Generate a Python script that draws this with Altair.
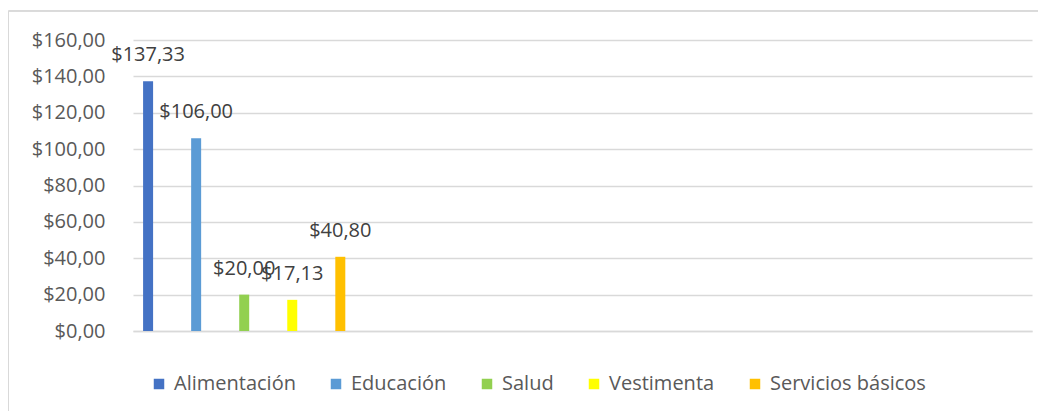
import altair as alt
import pandas as pd

categories = ["Alimentación", "Educación", "Salud", "Vestimenta", "Servicios básicos"]
values = [137.33, 106.00, 20.00, 17.13, 40.80]
colors = ["#4472C4", "#5B9BD5", "#92D050", "#FFFF00", "#FFC000"]
y_ticks = [0, 20, 40, 60, 80, 100, 120, 140, 160]

df = pd.DataFrame({"cat": categories, "val": values, "idx": list(range(len(categories)))})

FONT = "Open Sans"
FS = 20

x_scale = alt.Scale(domain=[-0.21, 18.29], nice=False, zero=False)
y_scale = alt.Scale(domain=[0, 160], nice=False)

x_axis = alt.Axis(labels=False, ticks=False, grid=False, title=None,
                  domain=True, domainColor="#d9d9d9", domainWidth=1.5)
y_axis = alt.Axis(values=y_ticks, tickCount=len(y_ticks), title=None, ticks=False,
                  domain=False, gridColor="#d9d9d9", gridWidth=1.5,
                  labelOverlap=False,
                  labelExpr='"$" + replace(format(datum.value, ".2f"), ".", ",")',
                  labelFont=FONT, labelFontSize=FS, labelColor="#595959",
                  labelPadding=28)

bars = alt.Chart(df).mark_bar(width=10).encode(
    x=alt.X("idx:Q", scale=x_scale, axis=x_axis),
    y=alt.Y("val:Q", scale=y_scale, axis=y_axis),
    color=alt.Color("cat:N", scale=alt.Scale(domain=categories, range=colors),
                    legend=alt.Legend(title=None, orient="none", legendX=16, legendY=334,
                                      direction="horizontal", columns=5,
                                      symbolType="square", symbolSize=110,
                                      symbolStrokeWidth=0, labelOffset=5,
                                      columnPadding=30,
                                      labelFont=FONT, labelFontSize=FS,
                                      labelColor="#595959")),
)

labels = alt.Chart(df).transform_calculate(
    lbl='"$" + replace(format(datum.val, ".2f"), ".", ",")'
).mark_text(dy=-26, baseline="middle", align="center", font=FONT, fontSize=FS,
            color="#404040").encode(
    x=alt.X("idx:Q", scale=x_scale, axis=x_axis),
    y=alt.Y("val:Q", scale=y_scale, axis=y_axis),
    text="lbl:N",
)

# chart-area frame (left and top edges, as in the reference)
frame_left = alt.Chart(df).mark_rule(color="#d9d9d9", strokeWidth=1).encode(
    x=alt.value(-124.5), y=alt.value(-29), y2=alt.value(380)
)
frame_top = alt.Chart(df).mark_rule(color="#d9d9d9", strokeWidth=1).encode(
    x=alt.value(-124.5), x2=alt.value(905), y=alt.value(-29)
)

chart = alt.layer(bars, labels, frame_left, frame_top).properties(
    width=899, height=291,
    background="white",
    autosize=alt.AutoSizeParams(type="none"),
    padding={"left": 125, "top": 32, "right": 6, "bottom": 80},
).configure_view(stroke="transparent", strokeWidth=0)

chart.save("out.html", embed_options={"renderer": "svg", "actions": False})
